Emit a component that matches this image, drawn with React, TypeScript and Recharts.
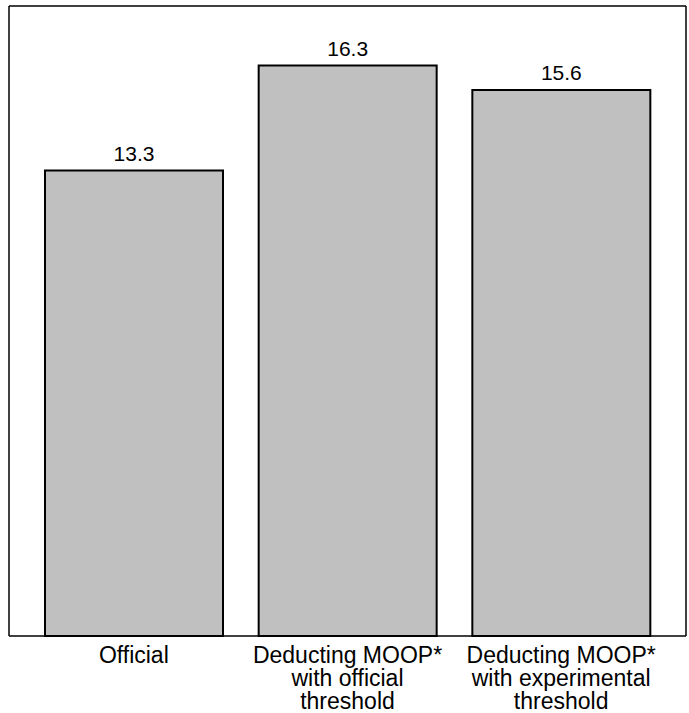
import React from "react";
import { BarChart, Bar, XAxis, YAxis, LabelList } from "recharts";

const categories = ["Official", "Deducting MOOP* with official threshold", "Deducting MOOP* with experimental threshold"];
const tickLines = [
	["Official"],
	["Deducting MOOP*", "with official", "threshold"],
	["Deducting MOOP*", "with experimental", "threshold"],
];
const rates = [13.3, 16.3, 15.6];

const data = categories.map((name, i) => ({ name, idx: i, value: rates[i] }));

const FONT = '"Liberation Sans", Arial, Helvetica, sans-serif';
const frame = { stroke: "#000", strokeWidth: 1.5 };

const CategoryTick = (props: any) => {
	const { x, y, index } = props;
	const lines = tickLines[index] || [];
	return (
		<text x={x} y={y} textAnchor="middle" fontFamily={FONT} fontSize={23} fill="#000">
			{lines.map((l, i) => (
				<tspan key={i} x={x} y={y + 19 + i * 23}>
					{l}
				</tspan>
			))}
		</text>
	);
};

export default function App() {
	return (
		<div style={{ position: "absolute", left: 0, top: 0, background: "#fff" }}>
			<BarChart
				width={689}
				height={713}
				data={data}
				margin={{ top: 5, right: 2, left: 8, bottom: 0 }}
				barSize={178}
			>
				<XAxis
					dataKey="name"
					height={77}
					padding={{ left: 18, right: 18 }}
					axisLine={frame}
					tickLine={false}
					tick={<CategoryTick />}
					interval={0}
				/>
				<XAxis xAxisId="top" orientation="top" height={1} dataKey="name" tick={false} tickLine={false} axisLine={frame} />
				<YAxis domain={[0, 18]} width={1} tick={false} tickLine={false} axisLine={frame} />
				<YAxis yAxisId="right" orientation="right" domain={[0, 18]} width={1} tick={false} tickLine={false} axisLine={frame} />
				<Bar dataKey="value" fill="#c0c0c0" stroke="#000" strokeWidth={2} isAnimationActive={false}>
					<LabelList dataKey="value" position="top" offset={10} fill="#000" fontSize={21} fontFamily={FONT} formatter={(v: any) => Number(v).toFixed(1)} />
				</Bar>
			</BarChart>
		</div>
	);
}
